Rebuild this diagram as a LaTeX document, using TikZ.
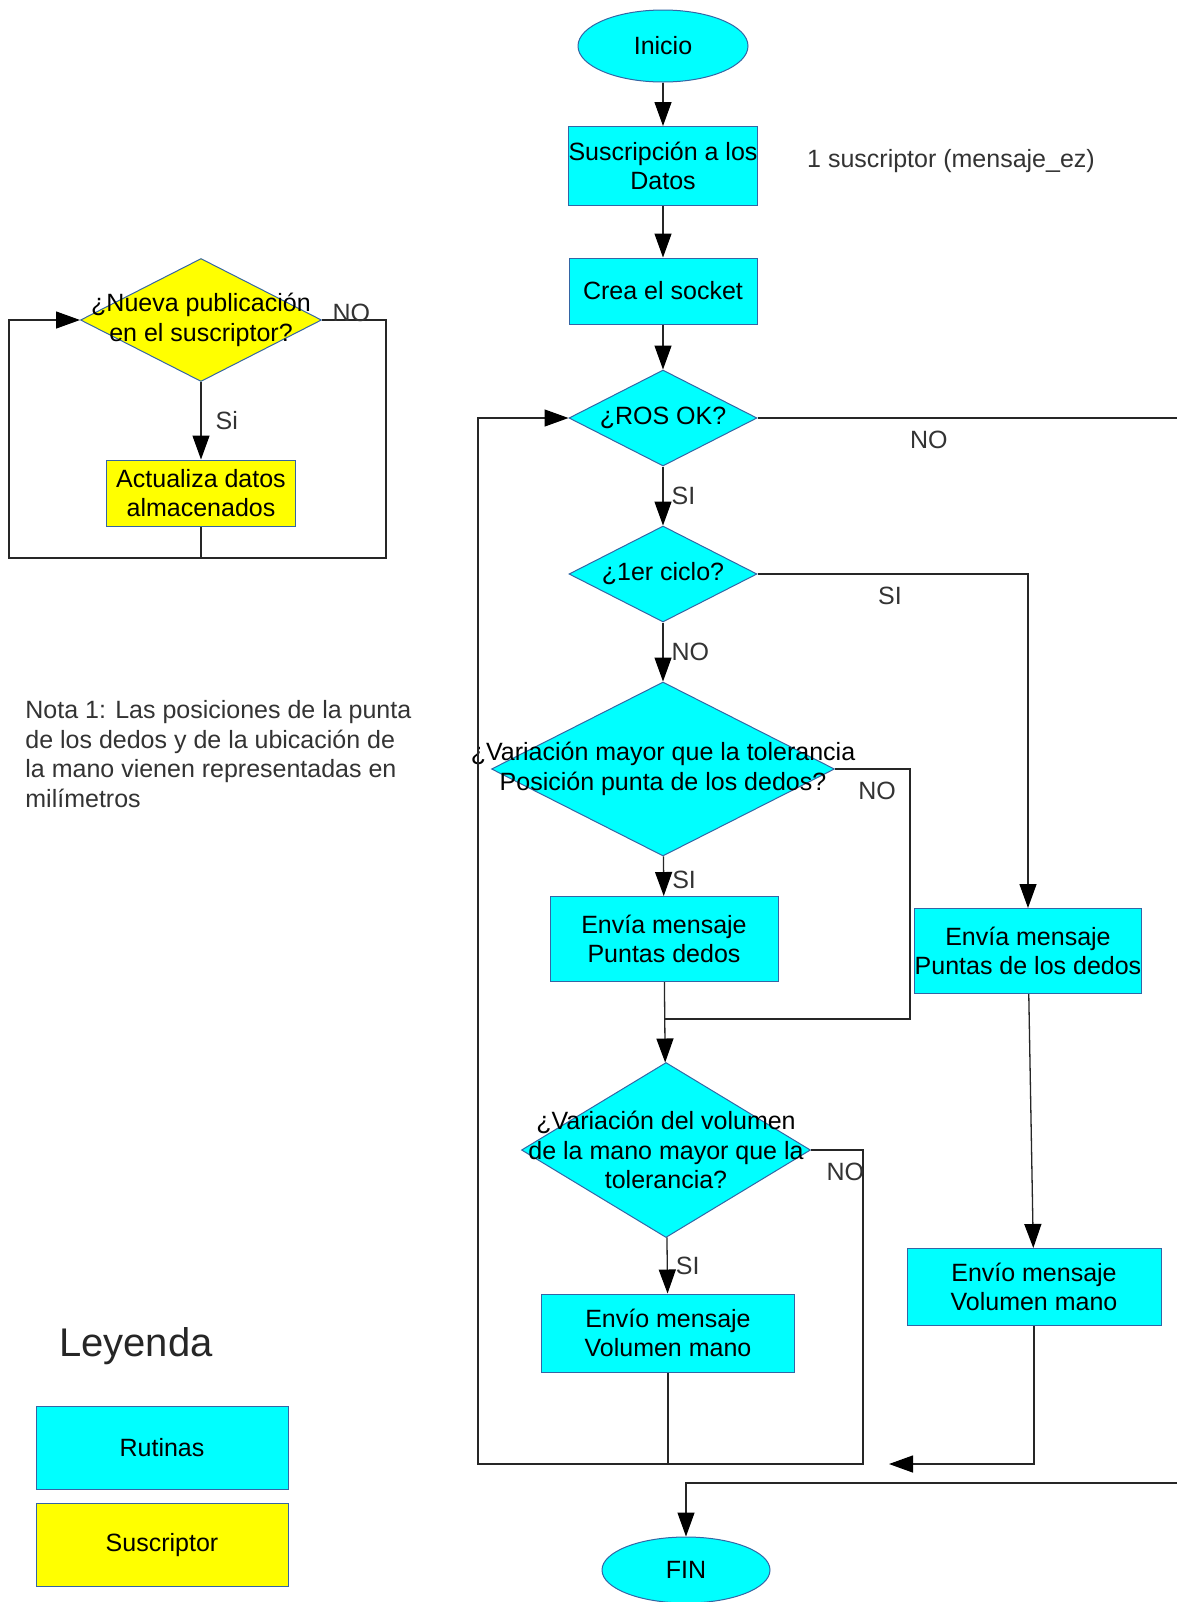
\documentclass[tikz,border=0pt]{standalone}
\usepackage{fontspec}
\setmainfont{Liberation Sans}
\usepackage{tikz}
\usetikzlibrary{positioning,arrows.meta,shapes.geometric}
\definecolor{edgeblue}{HTML}{3465A4}
\definecolor{rutcyan}{HTML}{00FFFF}
\definecolor{subyellow}{HTML}{FFFF00}
\definecolor{notegray}{HTML}{333333}
\newcommand{\chartfont}{\fontsize{12.5}{14.8}\selectfont}
\tikzset{
  terminal/.style={ellipse, draw=edgeblue, fill=rutcyan, line width=0.5pt, inner sep=0pt, font=\chartfont},
  process/.style={rectangle, draw=edgeblue, fill=rutcyan, line width=0.5pt, inner sep=0pt, align=center, font=\chartfont},
  decision/.style={diamond, draw=edgeblue, fill=rutcyan, line width=0.5pt, inner sep=0pt},
  dtext/.style={label={[font=\chartfont, align=center, inner sep=0pt]center:#1}},
  subscriber/.style={fill=subyellow},
  flow/.style={draw=black!85, line width=0.65pt},
  fwd/.style={flow, -{Triangle[length=12pt, width=8.5pt, black]}},
  lbl/.style={font=\chartfont, text=notegray, inner sep=1pt},
}

\begin{document}
\begin{tikzpicture}[x=0.5pt, y=-0.5pt]
  \path[fill=white, use as bounding box] (0,0) rectangle (1177,1602);

  % flujo principal
  \node[terminal, minimum width=85pt, minimum height=36pt] (inicio) at (663,46) {Inicio};
  \node[process, minimum width=94pt, minimum height=39.5pt] (susc) at (663,166) {Suscripción a los\\Datos};
  \node[process, minimum width=94pt, minimum height=33pt] (socket) at (663,291) {Crea el socket};
  \node[decision, minimum width=94pt, minimum height=48pt, dtext={¿ROS OK?}] (ros) at (663,418) {};
  \node[decision, minimum width=94pt, minimum height=48pt, dtext={¿1er ciclo?}] (ciclo) at (663,574) {};
  \node[decision, minimum width=171.5pt, minimum height=87pt,
        dtext={¿Variación mayor que la tolerancia\\Posición punta de los dedos?}] (varpos) at (663,769) {};
  \node[process, minimum width=114pt, minimum height=42.5pt] (envpos) at (664,939) {Envía mensaje\\Puntas dedos};
  \node[decision, minimum width=144.5pt, minimum height=87.5pt,
        dtext={¿Variación del volumen\\de la mano mayor que la\\tolerancia?}] (varvol) at (666,1150) {};
  \node[process, minimum width=126.5pt, minimum height=39pt] (envvol) at (668,1333) {Envío mensaje\\Volumen mano};
  \node[terminal, minimum width=84pt, minimum height=33pt] (fin) at (686,1570) {FIN};

  % rama del primer ciclo
  \node[process, minimum width=113.5pt, minimum height=42.5pt] (envpos2) at (1028,951) {Envía mensaje\\Puntas de los dedos};
  \node[process, minimum width=127pt, minimum height=38.5pt] (envvol2) at (1034,1287) {Envío mensaje\\Volumen mano};

  \node[lbl] (nsusc) at (951,161) {1 suscriptor (mensaje\_ez)};

  \coordinate (loopbr) at (863,1464);
  \coordinate (loopbl) at (478,1464);
  \coordinate (posbr) at (910,1019);
  \coordinate (posjoin) at (665,1019);
  \coordinate (rettip) at (889,1464);
  \coordinate (outr) at (1186,1483);

  \draw[fwd] (inicio) -- (susc);
  \draw[fwd] (susc) -- (socket);
  \draw[fwd] (socket) -- (ros);
  \draw[fwd] (ros) -- node[lbl, right=3pt] (rossi) {SI} (ciclo);
  \draw[fwd] (ciclo) -- node[lbl, right=3pt] (ciclono) {NO} (varpos);
  \draw[fwd] (varpos) -- node[lbl, right=3pt, pos=0.6] (varpossi) {SI} (envpos);
  \draw[fwd] (envpos) -- (varvol);
  \draw[fwd] (varvol) -- node[lbl, right=3pt] (varvolsi) {SI} (envvol);

  \draw[fwd] (ros.east) -| node[lbl, below=5pt, pos=0.2] (rosno) {NO} (outr) -| (fin);
  \draw[fwd] (ciclo.east) -| node[lbl, below=5pt, pos=0.245] (ciclosi) {SI} (envpos2.north);
  \draw[fwd] (envpos2) -- (envvol2);
  \draw[fwd] (envvol2) |- (rettip);

  \draw[flow] (varpos.east) -| node[lbl, below=5pt, pos=0.28] (varposno) {NO} (posbr) -- (posjoin);
  \draw[fwd] (varvol.east) -| node[lbl, below=5pt, pos=0.33] (varvolno) {NO} (loopbr) -- (loopbl) |- (ros.west);
  \draw[flow] (envvol) -- (envvol |- loopbl);

  % suscriptor
  \node[decision, subscriber, minimum width=120.5pt, minimum height=61.5pt,
        dtext={¿Nueva publicación\\en el suscriptor?}] (nueva) at (201,320) {};
  \node[process, subscriber, minimum width=94.5pt, minimum height=33pt] (actual) at (201,493) {Actualiza datos\\almacenados};
  \coordinate (subbr) at (386,558);
  \coordinate (subtl) at (9,320);
  \draw[fwd] (nueva) -- node[lbl, right=6pt] (nuevasi) {Si} (actual);
  \draw[fwd] (nueva.east) -| node[lbl, above, yshift=-2pt, pos=0.23] (nuevano) {NO} (subbr) -| (subtl) -- (nueva.west);
  \draw[flow] (actual) -- (actual |- subbr);

  % nota y leyenda
  \node[lbl, anchor=north west, align=left, inner sep=0pt] (nota) at (25,700)
    {Nota 1: Las posiciones de la punta\\de los dedos y de la ubicación de\\la mano vienen representadas en\\milímetros};
  \node[font=\fontsize{20}{24}\selectfont, text=black!85] (leyenda) at (136,1346) {Leyenda};
  \node[process, minimum width=126pt, minimum height=41.5pt] (rutinas) at (162,1448) {Rutinas};
  \node[process, subscriber, minimum width=126pt, minimum height=41.5pt] (suscriptor) at (162,1545) {Suscriptor};
\end{tikzpicture}
\end{document}
